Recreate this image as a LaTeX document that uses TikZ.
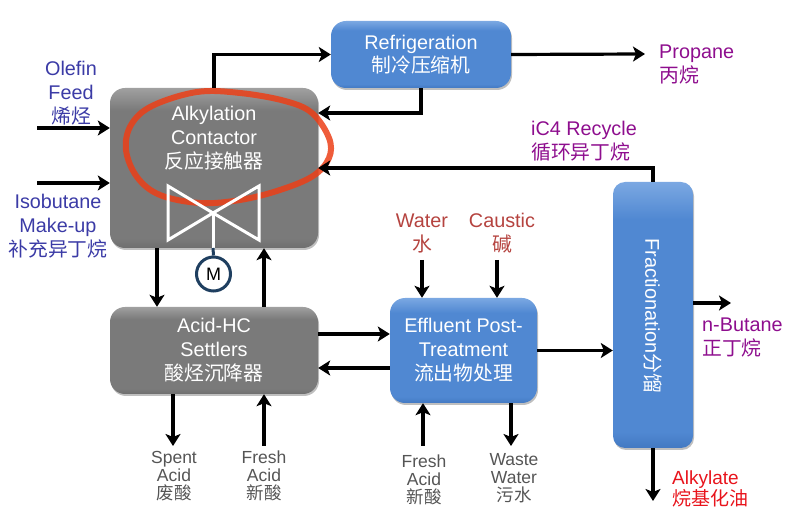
\documentclass[tikz,border=0pt]{standalone}
\usepackage{fontspec}
\setmainfont{Liberation Sans}
\newfontfamily\cjk{Noto Sans CJK SC}
\usetikzlibrary{arrows.meta,shadows,calc}
\definecolor{lblue}{HTML}{3B3BA6}
\definecolor{lpurple}{HTML}{8E0E8E}
\definecolor{lbrown}{HTML}{B5433F}
\definecolor{lgray}{HTML}{555555}
\definecolor{lred}{HTML}{E8141C}
\definecolor{greytop}{HTML}{A0A0A0}
\definecolor{greymid}{HTML}{7A7A7A}
\definecolor{greylow}{HTML}{6E6E6E}
\definecolor{bluetop}{HTML}{7BA8E2}
\definecolor{bluemid}{HTML}{5088D2}
\definecolor{bluelow}{HTML}{4379C2}
\definecolor{motorblue}{HTML}{1F3F60}
\definecolor{ringred}{HTML}{EC3F17}
\pgfdeclareverticalshading{greyface}{100bp}{color(0bp)=(greylow); color(25bp)=(greylow); color(28bp)=(greymid); color(68bp)=(greymid); color(75bp)=(greytop); color(100bp)=(greytop)}
\pgfdeclareverticalshading{blueface}{100bp}{color(0bp)=(bluelow); color(25bp)=(bluelow); color(28bp)=(bluemid); color(68bp)=(bluemid); color(75bp)=(bluetop); color(100bp)=(bluetop)}
\tikzset{
  x=1pt,y=-1pt,
  flow/.style={line width=3.2pt,-{Stealth[length=12pt,width=15pt,inset=3pt]}},
  plainbox/.style={rounded corners=15pt,inner sep=0pt,align=center,text=white,
    font=\fontsize{19.8}{24}\selectfont,drop shadow={shadow xshift=1pt,shadow yshift=-2pt,opacity=0.25,fill=black}},
  greyblock/.style={plainbox,shade,shading=greyface},
  blueblock/.style={plainbox,shade,shading=blueface},
  lbl/.style={align=center,inner sep=0pt,font=\fontsize{19.8}{24}\selectfont},
  small lbl/.style={align=center,inner sep=0pt,text=lgray,font=\fontsize{17.5}{18}\selectfont},
}
\begin{document}
\begin{tikzpicture}
\useasboundingbox (0,0) rectangle (785,510);
% blocks
\node[greyblock,minimum width=208pt,minimum height=160pt] (contactor) at (214,168) {};
\node[blueblock,minimum width=180pt,minimum height=67pt] (refrig) at (421,54.5) {\raisebox{-1.5pt}{Refrigeration}\\{\cjk 制冷压缩机}};
\node[greyblock,minimum width=208pt,minimum height=87pt] (settlers) at (214,350.5) {\raisebox{-1pt}{Acid-HC}\\\raisebox{-1pt}{Settlers}\\\raisebox{-1pt}{\cjk 酸烃沉降器}};
\node[blueblock,minimum width=147pt,minimum height=105pt] (effluent) at (463.5,350.5) {\raisebox{-1pt}{Effluent Post-}\\\raisebox{-1pt}{Treatment}\\\raisebox{-1pt}{\cjk 流出物处理}};
\node[blueblock,rounded corners=12pt,minimum width=80pt,minimum height=266pt] (frac) at (653,315) {};
\node[rotate=-90,inner sep=0pt,text=white,font=\fontsize{19.9}{22}\selectfont] (fractext) at (653,316) {Fractionation{\cjk 分馏}};
% hand-drawn red ring
\draw[draw=ringred,opacity=0.85,line width=6pt,line cap=round,line join=round]
  plot[smooth cycle,tension=0.6] coordinates {(197,92) (240,93) (285,101) (312,113) (329,138) (329,158) (313,176) (280,190) (240,200) (200,203) (160,195) (137,177) (126,150) (131,125) (152,106)};
\node[lbl,text=white] (contactortext) at (214,138) {Alkylation\\Contactor\\{\cjk 反应接触器}};
% valve and motor
\coordinate (vl1) at (168,186);\coordinate (vl2) at (168,240);
\coordinate (vr1) at (259,186);\coordinate (vr2) at (259,240);
\coordinate (vc) at (213,213);
\draw[white,line width=3pt,line join=miter] (vc) -- (vl1) -- (vl2) -- cycle;
\draw[white,line width=3pt,line join=miter] (vc) -- (vr1) -- (vr2) -- cycle;
\node[circle,draw=motorblue,line width=3pt,minimum size=34pt,inner sep=0pt,fill=white,font=\fontsize{18}{20}\selectfont] (motor) at (213.5,274) {M};
\coordinate (vb) at (213,248);
\draw[white,line width=3pt] (vc) -- (vb);
\draw[motorblue,line width=3pt] (vb) -- (motor.north);
% free ends
\coordinate (propane) at (645,54);
\coordinate (olefin) at (37,128);
\coordinate (isob) at (37,183);
\coordinate (spent) at (173,446);
\coordinate (fresh1) at (264,446);
\coordinate (fresh2) at (423,446);
\coordinate (waste) at (511,446);
\coordinate (water) at (422,260);
\coordinate (caustic) at (497,260);
\coordinate (butane) at (731,303);
\coordinate (alky) at (653,501);
\coordinate (t1) at (157,248);
\coordinate (t2) at (264,248);
\coordinate (tr) at (318,113);
\coordinate (tc) at (318,168);
\coordinate (ts1) at (318,334);
\coordinate (ts2) at (318,368);
% connectors
\draw[flow] (contactor.north) |- (refrig.west);
\draw[flow] (refrig.south) |- (contactor.east |- tr);
\draw[flow] (refrig.east) -- (propane);
\draw[flow] (frac.north) |- (contactor.east |- tc);
\draw[flow] (olefin) -- (olefin -| contactor.west);
\draw[flow] (isob) -- (isob -| contactor.west);
\draw[flow] (t1 |- contactor.south) -- (t1 |- settlers.north);
\draw[flow] (t2 |- settlers.north) -- (t2 |- contactor.south);
\draw[flow] (settlers.east |- ts1) -- (effluent.west |- ts1);
\draw[flow] (effluent.west |- ts2) -- (settlers.east |- ts2);
\draw[flow] (spent |- settlers.south) -- (spent);
\draw[flow] (fresh1) -- (fresh1 |- settlers.south);
\draw[flow] (water) -- (water |- effluent.north);
\draw[flow] (caustic) -- (caustic |- effluent.north);
\draw[flow] (fresh2) -- (fresh2 |- effluent.south);
\draw[flow] (waste |- effluent.south) -- (waste);
\draw[flow] (effluent.east) -- (effluent.east -| frac.west);
\draw[flow] (butane -| frac.east) -- (butane);
\draw[flow] (frac.south) -- (alky);
% labels
\node[lbl,text=lblue] (lolefin) at (71,93) {Olefin\\Feed\\{\cjk 烯烃}};
\node[lbl,text=lblue] (lisob) at (58,226.5) {Isobutane\\Make-up\\{\cjk 补充异丁烷}};
\node[lbl,text=lpurple,align=left,anchor=west] (lprop) at (659,64.5) {Propane\\{\cjk 丙烷}};
\node[lbl,text=lpurple,align=left,anchor=west] (lic4) at (531,141) {iC4 Recycle\\{\cjk 循环异丁烷}};
\node[lbl,text=lpurple,align=left,anchor=west] (lbut) at (702,337.5) {n-Butane\\{\cjk 正丁烷}};
\node[lbl,text=lred,align=left,anchor=west,font=\fontsize{19}{20}\selectfont] (lalk) at (672,489) {Alkylate\\{\cjk 烷基化油}};
\node[lbl,text=lbrown] (lwater) at (422,233.5) {Water\\{\cjk 水}};
\node[lbl,text=lbrown] (lcaustic) at (502,233.5) {Caustic\\{\cjk 碱}};
\node[small lbl] (lspent) at (174,476) {Spent\\Acid\\{\cjk 废酸}};
\node[small lbl] (lfresh1) at (264,476) {Fresh\\Acid\\{\cjk 新酸}};
\node[small lbl] (lfresh2) at (424,480) {Fresh\\Acid\\{\cjk 新酸}};
\node[small lbl] (lwaste) at (514,478) {Waste\\Water\\{\cjk 污水}};
\end{tikzpicture}
\end{document}
